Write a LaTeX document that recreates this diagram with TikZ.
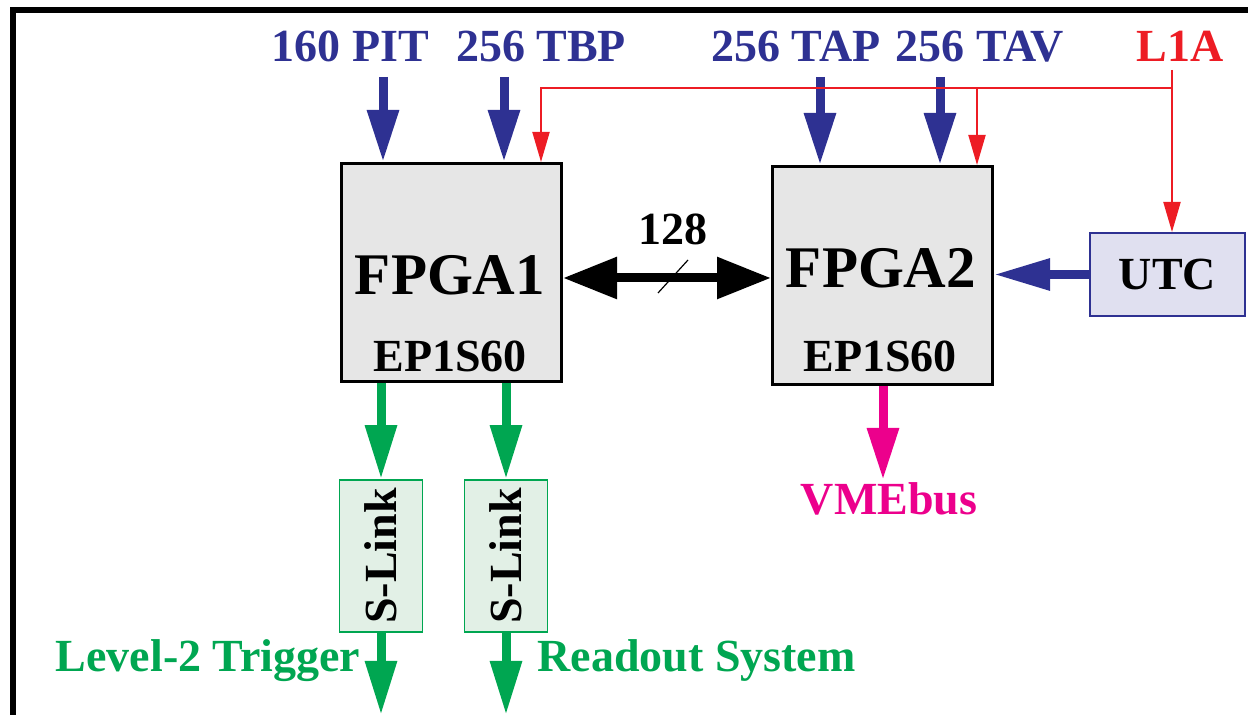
\documentclass[tikz,border=0pt]{standalone}
\usepackage{fontspec}
\setmainfont{Liberation Serif}
\usepackage{tikz}
\usepackage{graphicx}
\usetikzlibrary{arrows.meta}

\definecolor{tblue}{RGB}{46,49,146}
\definecolor{tred}{RGB}{237,28,36}
\definecolor{tgreen}{RGB}{0,166,81}
\definecolor{tmag}{RGB}{236,0,140}
\definecolor{boxgray}{RGB}{230,230,230}
\definecolor{linkfill}{RGB}{226,240,230}
\definecolor{utcfill}{RGB}{224,224,240}

\newcommand{\bigtxt}{\fontsize{23}{27}\selectfont\bfseries}
\newcommand{\hugetxt}{\fontsize{29.5}{34}\selectfont\bfseries}

\begin{document}
\begin{tikzpicture}[x=.5pt,y=-.5pt,
    fpga/.style={draw, line width=1.5pt, fill=boxgray, minimum width=110pt, minimum height=109pt, inner sep=0pt},
    slink/.style={draw=tgreen, line width=.8pt, fill=linkfill, minimum width=41.5pt, minimum height=76pt, inner sep=0pt, font=\bigtxt},
    utcbox/.style={draw=tblue, line width=1pt, fill=utcfill, minimum width=77.5pt, minimum height=41.5pt, inner sep=0pt, font=\bigtxt},
    busin/.style={tblue, line width=4.5pt, -{Triangle[length=26pt,width=15pt]}},
    l1arr/.style={tred, line width=1pt, -{Triangle[length=15pt,width=8.5pt]}},
    linkout/.style={tgreen, line width=4.5pt, -{Triangle[length=27pt,width=15pt]}},
    vmearr/.style={tmag, line width=4.5pt, -{Triangle[length=26pt,width=15pt]}},
    dataarr/.style={black, line width=4.5pt, {Triangle[length=27pt,width=20pt]}-{Triangle[length=27pt,width=20pt]}}]
  \useasboundingbox (0,0) rectangle (1248,715);
  % frame
  \draw[line width=3pt] (13,730) -- (13,10) -- (1260,10);

  % the two FPGAs and the UTC
  \node[fpga] (fpga1) at (451.5,272.5) {};
  \node[font=\hugetxt, anchor=base] (f1name) at (450,295) {FPGA1};
  \node[font=\bigtxt, anchor=base] (f1chip) at (450,372) {EP1S60};
  \node[fpga] (fpga2) at (882.5,275.5) {};
  \node[font=\hugetxt, anchor=base] (f2name) at (881,288) {FPGA2};
  \node[font=\bigtxt, anchor=base] (f2chip) at (880,372) {EP1S60};
  \node[utcbox] (utc) at (1167.5,274.5) {UTC};

  % inputs
  \node[font=\bigtxt, tblue, anchor=base] (pit) at (350.5,62) {160 PIT};
  \node[font=\bigtxt, tblue, anchor=base] (tbp) at (541,62) {256 TBP};
  \node[font=\bigtxt, tblue, anchor=base] (tap) at (796,62) {256 TAP};
  \node[font=\bigtxt, tblue, anchor=base] (tav) at (980,62) {256 TAV};
  \node[font=\bigtxt, tred, anchor=base] (l1a) at (1180,62) {L1A};
  \coordinate (pitin) at (383,77);
  \coordinate (tbpin) at (504,77);
  \coordinate (tapin) at (820,77);
  \coordinate (tavin) at (940,77);
  \draw[busin] (pitin) -- (pitin |- fpga1.north);
  \draw[busin] (tbpin) -- (tbpin |- fpga1.north);
  \draw[busin] (tapin) -- (tapin |- fpga2.north);
  \draw[busin] (tavin) -- (tavin |- fpga2.north);

  % L1A distribution
  \coordinate (l1src) at (1172,70);
  \coordinate (l1split) at (1172,88);
  \coordinate (l1a1) at (541,88);
  \coordinate (l1a2) at (977,88);
  \draw[l1arr] (l1src) -- (l1split |- utc.north);
  \draw[l1arr] (l1split) -- (l1a1) -- (l1a1 |- fpga1.north);
  \draw[l1arr] (l1a2) -- (l1a2 |- fpga2.north);

  % FPGA1 <-> FPGA2
  \coordinate (bus) at (667,278);
  \draw[dataarr] (fpga1.east |- bus) -- (fpga2.west |- bus);
  \draw[line width=.6pt] (bus) ++(-9,15) -- ++(30,-33);
  \node[font=\bigtxt, anchor=base] (width) at (672.5,245) {128};
  \draw[busin, -{Triangle[length=28pt,width=15pt]}] (utc.west) -- (fpga2.east |- utc.west);

  % outputs
  \node[slink] (sl1) at (381,556) {\rotatebox{90}{S-Link}};
  \node[slink] (sl2) at (506,556) {\rotatebox{90}{S-Link}};
  \draw[linkout] (fpga1.south -| sl1) -- (sl1.north);
  \draw[linkout] (fpga1.south -| sl2) -- (sl2.north);
  \coordinate (l2out) at (381,715);
  \coordinate (rosout) at (506,715);
  \draw[linkout] (sl1.south) -- (l2out);
  \draw[linkout] (sl2.south) -- (rosout);
  \node[font=\bigtxt, tgreen, anchor=base] (l2) at (208,672) {Level-2 Trigger};
  \node[font=\bigtxt, tgreen, anchor=base] (ros) at (696.5,672) {Readout System};

  \node[font=\bigtxt, tmag, anchor=base] (vme) at (889,515) {VMEbus};
  \coordinate (vmein) at (883,480);
  \draw[vmearr] (fpga2.south -| vmein) -- (vmein);
\end{tikzpicture}
\end{document}
